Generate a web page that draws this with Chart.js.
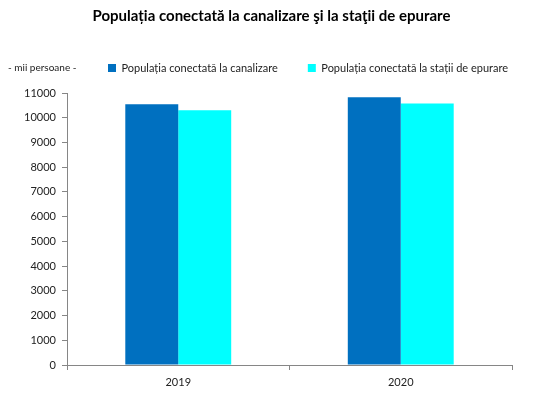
<!DOCTYPE html>
<html>
<head>
<meta charset="utf-8">
<script src="https://cdn.jsdelivr.net/npm/chart.js@4"></script>
<style>
html,body{margin:0;padding:0;background:#fff;}
#wrap{width:550px;height:393px;position:relative;}
</style>
</head>
<body>
<div id="wrap"><canvas id="c" width="550" height="393"></canvas></div>
<script>
const categories = ['2019', '2020'];
const seriesNames = ['Populația conectată la canalizare', 'Populația conectată la stații de epurare'];
const canalizare = [10540, 10830];
const epurare = [10300, 10580];
const yTicks = [0, 1000, 2000, 3000, 4000, 5000, 6000, 7000, 8000, 9000, 10000, 11000];
const titleText = 'Populația conectată la canalizare şi la staţii de epurare';
const unitText = '- mii persoane -';

const FONT = 'Lato, "Open Sans", sans-serif';

const placePlugin = {
  id: 'place',
  afterUpdate(chart) {
    const lg = chart.legend;
    if (lg) { lg.left = 78; lg.right = 550; lg.top = 32.5; lg.bottom = 83.5; }
    const t = chart.titleBlock;
    if (t) { const h = t.bottom - t.top; t.left = 0; t.right = 543; t.top = 7; t.bottom = 7 + h; }
  },
  afterDraw(chart) {
    const ctx = chart.ctx;
    ctx.save();
    ctx.font = '10px ' + FONT;
    ctx.fillStyle = '#222';
    ctx.textAlign = 'left';
    ctx.textBaseline = 'middle';
    ctx.fillText(unitText, 8, 68);
    ctx.restore();
  }
};

new Chart(document.getElementById('c'), {
  type: 'bar',
  data: {
    labels: categories,
    datasets: [
      { label: seriesNames[0], data: canalizare, backgroundColor: '#0070C0', borderWidth: 0 },
      { label: seriesNames[1], data: epurare, backgroundColor: '#00FFFF', borderWidth: 0 }
    ]
  },
  options: {
    responsive: false,
    animation: false,
    devicePixelRatio: 1,
    layout: { padding: { left: 0, right: 38, top: 24, bottom: 0 } },
    datasets: { bar: { categoryPercentage: 0.476, barPercentage: 1.0 } },
    plugins: {
      title: {
        display: true,
        text: titleText,
        color: '#000',
        font: { family: FONT, size: 15, weight: 'bold', lineHeight: 1.2 },
        padding: { top: 0, bottom: 0 }
      },
      legend: {
        display: true,
        position: 'top',
        align: 'start',
        labels: {
          boxWidth: 8, boxHeight: 8, padding: 30,
          color: '#222',
          font: { family: FONT, size: 11 }
        }
      },
      tooltip: { enabled: false }
    },
    scales: {
      x: {
        offset: true,
        afterFit(s) { s.height = 28; },
        grid: { display: true, drawOnChartArea: false, offset: true, tickLength: 5, color: '#868686' },
        border: { display: true, color: '#868686', width: 1 },
        ticks: { color: '#222', padding: 6, font: { family: FONT, size: 11 } }
      },
      y: {
        min: 0, max: 11000,
        afterFit(s) { s.width = 67; },
        afterBuildTicks(s) { s.ticks = yTicks.map(v => ({ value: v })); },
        grid: { display: true, drawOnChartArea: false, tickLength: 5, color: '#868686' },
        border: { display: true, color: '#868686', width: 1 },
        ticks: { color: '#222', padding: 6, font: { family: FONT, size: 11 }, callback: v => String(v) }
      }
    }
  },
  plugins: [placePlugin]
});
</script>
</body>
</html>
